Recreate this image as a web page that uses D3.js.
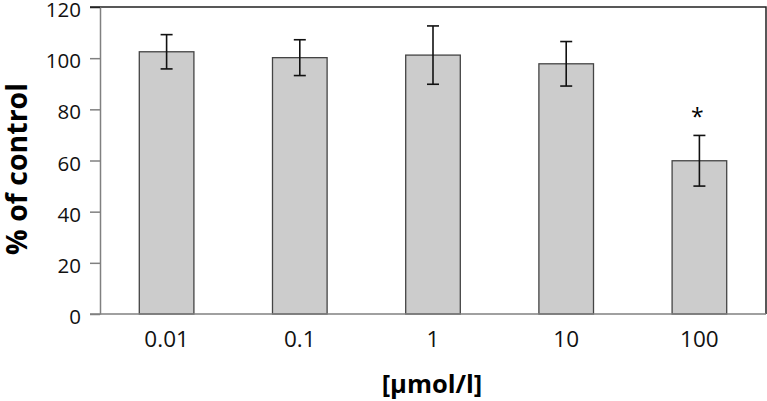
<!DOCTYPE html>
<html>
<head>
    <script src="https://d3js.org/d3.v7.min.js" charset="utf-8"></script>
    <style>
        body { margin: 0; background: #fff; }
        svg { display: block; }
    </style>
</head>
<body>
    <svg></svg>
    <script>
        var width = 767;
        var height = 401;

        // values
        var categories = ["0.01", "0.1", "1", "10", "100"];
        var means = [102.5, 100.2, 101.2, 97.8, 59.9];
        var errors = [6.7, 7.0, 11.4, 8.7, 9.9];
        var marks = ["", "", "", "", "*"];
        var yTicks = [0, 20, 40, 60, 80, 100, 120];

        var margin = { top: 7, right: 1, bottom: 87, left: 100 };

        var svg = d3.select("svg")
            .attr("width", width)
            .attr("height", height);

        var x = d3.scaleBand()
            .domain(categories)
            .range([margin.left, width - margin.right])
            .paddingInner(0.59)
            .paddingOuter(0.295);

        var y = d3.scaleLinear()
            .domain([0, 120])
            .range([height - margin.bottom, margin.top]);

        var font = "'Open Sans', 'Noto Sans', sans-serif";

        // frame: top and right edges dark
        svg.append("path")
            .attr("d", "M" + (margin.left - 10) + "," + y(120) + "H" + (width - margin.right) + "V" + y(0))
            .attr("fill", "none")
            .attr("stroke", "#222")
            .attr("stroke-width", 1.5);

        // bars
        svg.append("g").selectAll("rect")
            .data(means)
            .enter()
            .append("rect")
            .attr("x", function(d, i) { return x(categories[i]); })
            .attr("y", function(d) { return y(d); })
            .attr("width", x.bandwidth())
            .attr("height", function(d) { return y(0) - y(d); })
            .attr("fill", "#cccccc")
            .attr("stroke", "#444")
            .attr("stroke-width", 1.3);

        // error bars
        var eb = svg.append("g")
            .attr("stroke", "#111")
            .attr("stroke-width", 1.6);
        means.forEach(function(m, i) {
            var cx = x(categories[i]) + x.bandwidth() / 2;
            var top = y(m + errors[i]), bot = y(m - errors[i]);
            eb.append("line").attr("x1", cx).attr("x2", cx).attr("y1", top).attr("y2", bot);
            eb.append("line").attr("x1", cx - 6).attr("x2", cx + 6).attr("y1", top).attr("y2", top);
            eb.append("line").attr("x1", cx - 6).attr("x2", cx + 6).attr("y1", bot).attr("y2", bot);
            if (marks[i]) {
                svg.append("text")
                    .attr("x", cx - 2)
                    .attr("y", top - 10)
                    .attr("text-anchor", "middle")
                    .attr("font-family", font)
                    .attr("font-size", 23)
                    .text(marks[i]);
            }
        });

        // y axis
        var yAxis = svg.append("g")
            .attr("transform", "translate(" + margin.left + ",0)")
            .call(d3.axisLeft(y).tickValues(yTicks).tickSize(10).tickPadding(9).tickSizeOuter(0));
        yAxis.select(".domain").attr("stroke", "#808080").attr("stroke-width", 1.5);
        yAxis.selectAll(".tick line").attr("stroke", "#808080").attr("stroke-width", 1.5);
        yAxis.selectAll("text")
            .attr("font-family", font)
            .attr("font-size", 20.5)
            .attr("fill", "#111")
            .attr("dy", "0.47em");
        yAxis.select(".tick:last-of-type line").attr("stroke", "#222");

        // x axis
        var xAxis = svg.append("g")
            .attr("transform", "translate(0," + y(0) + ")")
            .call(d3.axisBottom(x).tickSize(0).tickPadding(17));
        xAxis.select(".domain").remove();
        svg.append("line")
            .attr("x1", margin.left - 10).attr("x2", width - margin.right)
            .attr("y1", y(0)).attr("y2", y(0))
            .attr("stroke", "#808080").attr("stroke-width", 1.5);
        xAxis.selectAll("text")
            .attr("font-family", font)
            .attr("font-size", 22.5)
            .attr("fill", "#111");

        // axis titles
        svg.append("text")
            .attr("transform", "translate(27,169) rotate(-90)")
            .attr("text-anchor", "middle")
            .attr("font-family", font)
            .attr("font-weight", "bold")
            .attr("font-size", 28.5)
            .text("% of control");

        svg.append("text")
            .attr("x", (margin.left + width - margin.right) / 2 - 1)
            .attr("y", 393)
            .attr("text-anchor", "middle")
            .attr("font-family", font)
            .attr("font-weight", "bold")
            .attr("font-size", 25.5)
            .text("[µmol/l]");
    </script>
</body>
</html>
